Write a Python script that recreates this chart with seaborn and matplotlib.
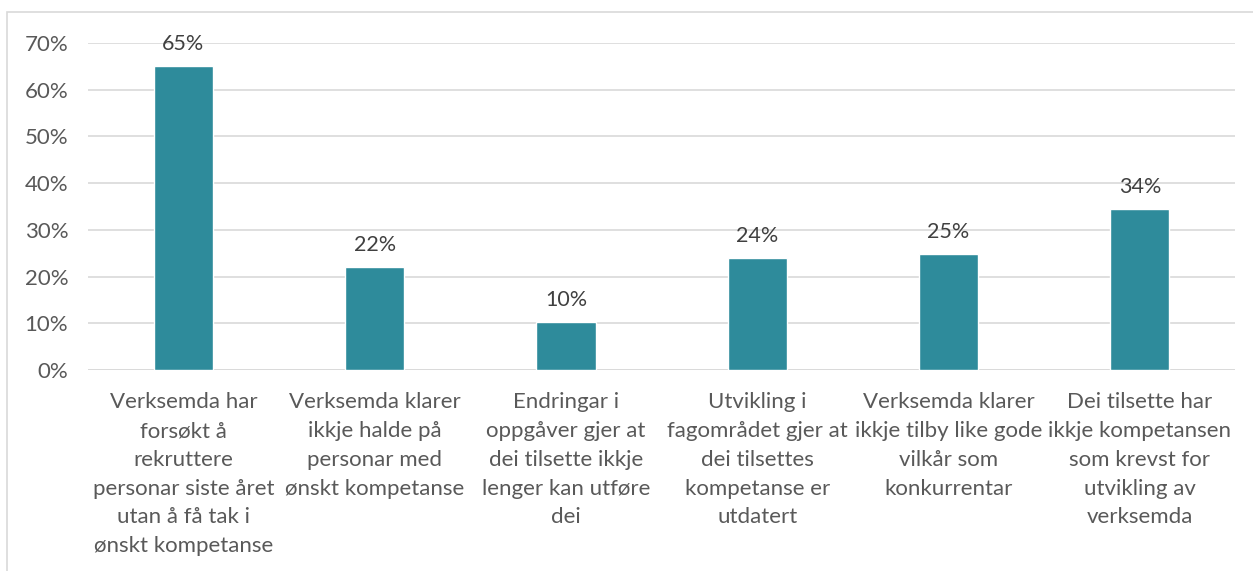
import seaborn as sns
import matplotlib.pyplot as plt
import pandas as pd
from matplotlib.patches import Rectangle
from matplotlib.ticker import PercentFormatter

# -----------------------
# Data
# -----------------------
categories = [
    "Verksemda har\nforsøkt å\nrekruttere\npersonar siste året\nutan å få tak i\nønskt kompetanse",
    "Verksemda klarer\nikkje halde på\npersonar med\nønskt kompetanse",
    "Endringar i\noppgåver gjer at\ndei tilsette ikkje\nlenger kan utføre\ndei",
    "Utvikling i\nfagområdet gjer at\ndei tilsettes\nkompetanse er\nutdatert",
    "Verksemda klarer\nikkje tilby like gode\nvilkår som\nkonkurrentar",
    "Dei tilsette har\nikkje kompetansen\nsom krevst for\nutvikling av\nverksemda",
]
shares = [0.65, 0.22, 0.103, 0.24, 0.248, 0.345]
value_labels = ["65%", "22%", "10%", "24%", "25%", "34%"]

df = pd.DataFrame({"Kategori": categories, "Andel": shares})

# -----------------------
# Plot
# -----------------------
sns.set_style("white")
plt.rcParams["font.family"] = ["Lato", "DejaVu Sans"]

fig = plt.figure(figsize=(12.53, 5.71), dpi=100)
ax = fig.add_axes([0.070, 0.352, 0.916, 0.573])

sns.barplot(data=df, x="Kategori", y="Andel", color="#2E8B9B",
            saturation=1, width=0.31, ax=ax, zorder=3)

ax.set_ylim(0, 0.7)
ax.set_yticks([i / 10 for i in range(8)])
ax.yaxis.set_major_formatter(PercentFormatter(1.0, decimals=0))
ax.grid(axis="y", color="#D9D9D9", linewidth=1.2, zorder=0)
ax.set_xlabel("")
ax.set_ylabel("")
for s in ax.spines.values():
    s.set_visible(False)
ax.axhline(0, color="#D9D9D9", linewidth=1.2, zorder=1)

ax.tick_params(axis="y", length=0, pad=14, labelsize=16, labelcolor="#595959")
ax.tick_params(axis="x", length=0, pad=16, labelsize=16, labelcolor="#595959")
for lbl in ax.get_xticklabels():
    lbl.set_linespacing(1.55)

for patch, txt in zip(ax.patches, value_labels):
    ax.text(patch.get_x() + patch.get_width() / 2, patch.get_height() + 0.026,
            txt, ha="center", va="bottom", fontsize=15.5, color="#404040")

# light frame (left and top edges visible)
fig.patches.append(Rectangle((0.0056, -0.05), 1.0, 1.029, transform=fig.transFigure,
                             fill=False, edgecolor="#D9D9D9", linewidth=1.2))

plt.savefig("out.png", dpi=100, pad_inches=0)
plt.close()
